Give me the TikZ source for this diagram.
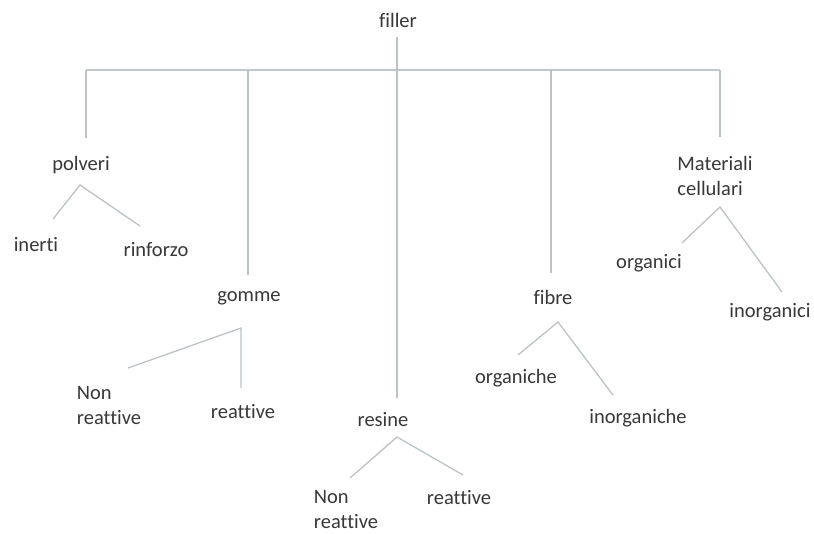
\documentclass[tikz,border=0pt]{standalone}
\usepackage{fontspec}
\setmainfont[Ligatures=NoCommon]{Carlito}
\begin{document}
\begin{tikzpicture}[x=1pt,y=-1pt,
  lbl/.style={inner sep=0pt,text=black!78,font=\fontsize{20.5}{25}\selectfont},
  lbl2/.style={lbl,align=left},
  conn/.style={draw=black!20!cyan!14!gray!55,line width=1.3pt},
  barline/.style={draw=black!18!cyan!15!gray!50,line width=2pt}]
\useasboundingbox[fill=white] (0,0) rectangle (814,533);
% labels
\node[lbl] (filler) at (398,20) {filler};
\node[lbl] (polveri) at (81,165) {polveri};
\node[lbl] (inerti) at (36,245) {inerti};
\node[lbl] (rinforzo) at (156,250) {rinforzo};
\node[lbl2] (materiali) at (715,176) {Materiali\\cellulari};
\node[lbl] (organici) at (649,263) {organici};
\node[lbl] (inorganici) at (770,312) {inorganici};
\node[lbl] (gomme) at (249,298) {gomme};
\node[lbl2] (nonreatg) at (109,405) {Non\\reattive};
\node[lbl] (reatg) at (243,412) {reattive};
\node[lbl] (resine) at (383,420) {resine};
\node[lbl2] (nonreatr) at (346,509) {Non\\reattive};
\node[lbl] (reatr) at (459,498) {reattive};
\node[lbl] (fibre) at (553,297) {fibre};
\node[lbl] (organiche) at (516,378) {organiche};
\node[lbl] (inorganiche) at (638,418) {inorganiche};
% connector points
\coordinate (fTop) at (397,37);
\coordinate (fBot) at (397,398);
\coordinate (bL) at (86,70);
\coordinate (bR) at (720,70);
\coordinate (bG) at (248,70);
\coordinate (bF) at (551,70);
\coordinate (pTop) at (86,138);
\coordinate (gTop) at (248,275);
\coordinate (fiTop) at (551,273);
\coordinate (mTop) at (720,137);
\coordinate (pA) at (80,185);
\coordinate (pL) at (53,219);
\coordinate (pR) at (140,226);
\coordinate (mA) at (720,207);
\coordinate (mL) at (682,243);
\coordinate (mR) at (782,292);
\coordinate (gA) at (241,328);
\coordinate (gL) at (128,368);
\coordinate (gR) at (241,388);
\coordinate (rA) at (397,437);
\coordinate (rL) at (350,478);
\coordinate (rR) at (463,475);
\coordinate (fiA) at (558,322);
\coordinate (fiL) at (518,355);
\coordinate (fiR) at (613,395);
% connectors
\draw[barline] (bL) -- (bR);
\draw[conn] (fTop) -- (fBot);
\draw[conn] (bL) -- (pTop);
\draw[conn] (bG) -- (gTop);
\draw[conn] (bF) -- (fiTop);
\draw[conn] (bR) -- (mTop);
\draw[conn] (pL) -- (pA) -- (pR);
\draw[conn] (mL) -- (mA) -- (mR);
\draw[conn] (gL) -- (gA) -- (gR);
\draw[conn] (rL) -- (rA) -- (rR);
\draw[conn] (fiL) -- (fiA) -- (fiR);
\end{tikzpicture}
\end{document}
